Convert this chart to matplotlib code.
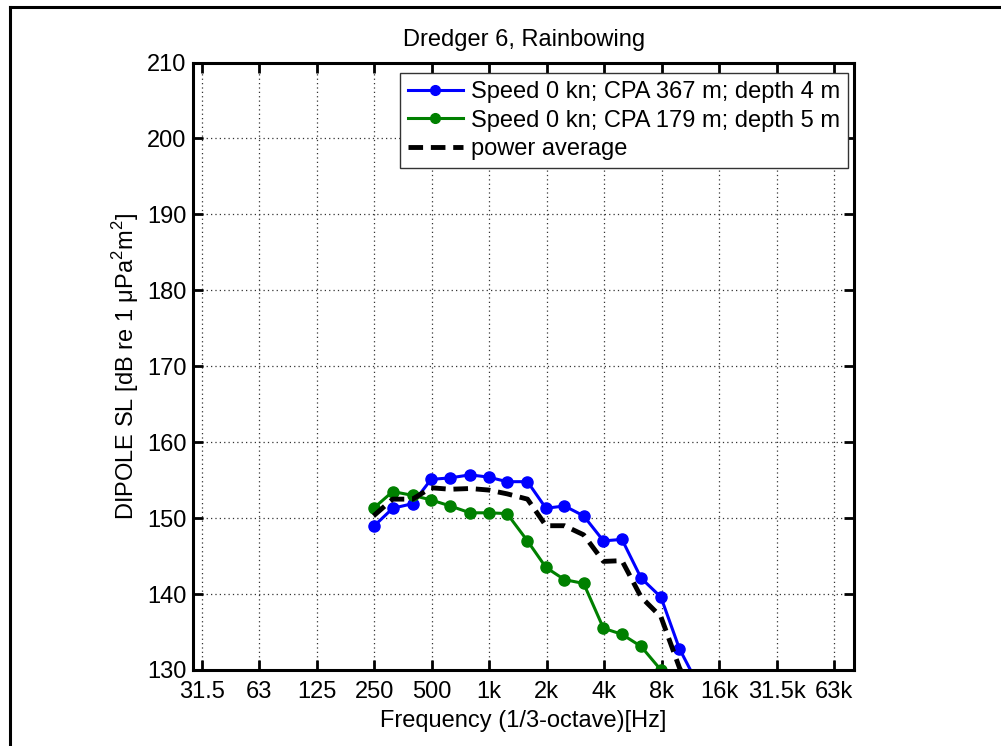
import matplotlib
matplotlib.use('Agg')
from matplotlib import pyplot as plt
from matplotlib.lines import Line2D

plt.rcParams['font.family'] = ['Liberation Sans', 'DejaVu Sans']
plt.rcParams['mathtext.fontset'] = 'custom'
plt.rcParams['mathtext.rm'] = 'Liberation Sans'

# 1/3-octave band centre frequencies [Hz]
freqs = [250, 315, 400, 500, 630, 800, 1000, 1250, 1600, 2000, 2500, 3150,
         4000, 5000, 6300, 8000, 10000, 12500]

sl_cpa367 = [148.9, 151.3, 151.9, 155.1, 155.3, 155.7, 155.4, 154.8, 154.8,
             151.3, 151.6, 150.3, 147.0, 147.2, 142.1, 139.6, 132.8, 128.1]
sl_cpa179 = [151.3, 153.5, 153.0, 152.4, 151.6, 150.7, 150.7, 150.6, 147.0,
             143.5, 141.9, 141.4, 135.5, 134.7, 133.1, 130.0, 126.0, 122.0]
sl_power_avg = [150.3, 152.5, 152.5, 154.0, 153.8, 153.9, 153.7, 153.2, 152.5,
                149.0, 149.0, 147.8, 144.3, 144.4, 139.6, 137.0, 130.3, 125.5]

tick_freqs = [31.5 * 2 ** n for n in range(12)]
tick_labels = ['31.5', '63', '125', '250', '500', '1k', '2k', '4k', '8k',
               '16k', '31.5k', '63k']

W, H = 1001, 746
FS = 17
fig = plt.figure(figsize=(W / 100, H / 100), dpi=100)

# frame lines on left and top of the figure
fig.add_artist(Line2D([10 / W, 10 / W], [0, 1 - 7 / H], color='black', lw=2.2,
                      transform=fig.transFigure))
fig.add_artist(Line2D([10 / W, 1], [1 - 7.3 / H, 1 - 7.3 / H], color='black', lw=2.2,
                      transform=fig.transFigure))

ax = fig.add_axes([193.3 / W, 1 - 670 / H, (854 - 193.3) / W, (670 - 62.5) / H])

ax.plot(freqs, sl_cpa367, '-o', color=(0, 0, 1), lw=2.2, ms=8,
        label='Speed 0 kn; CPA 367 m; depth 4 m')
ax.plot(freqs, sl_cpa179, '-o', color=(0, 0.5, 0), lw=2.2, ms=8,
        label='Speed 0 kn; CPA 179 m; depth 5 m')
ax.plot(freqs, sl_power_avg, '--', color='black', lw=3.5, dashes=(3, 1.6),
        label='power average')

ax.set_xscale('log')
ax.set_xlim(28.43, 82100)
ax.set_ylim(130, 210)
ax.set_xticks(tick_freqs)
ax.set_xticklabels(tick_labels)
ax.minorticks_off()
ax.set_yticks(range(130, 211, 10))

ax.grid(True, which='major', linestyle=(0, (1, 2.5)), color='#333333', lw=0.9)
ax.tick_params(direction='in', length=7, width=2, labelsize=FS,
               top=True, right=True)
ax.tick_params(axis='x', pad=8)
ax.tick_params(axis='y', pad=5)
for sp in ax.spines.values():
    sp.set_linewidth(2.2)

ax.set_title('Dredger 6, Rainbowing', fontsize=FS, pad=12)
ax.set_xlabel('Frequency (1/3-octave)[Hz]', fontsize=FS, labelpad=5)
ax.set_ylabel('DIPOLE SL [dB re 1 \u03bcPa$^2$m$^2$]', fontsize=FS, labelpad=4)

leg = ax.legend(loc='upper right', bbox_to_anchor=(848.3 / W, 1 - 72.7 / H),
                bbox_transform=fig.transFigure, borderaxespad=0, fontsize=FS,
                fancybox=False, handlelength=2.3, handletextpad=0.35,
                labelspacing=0.28, borderpad=0.35, framealpha=1)
leg.get_frame().set_edgecolor('#333333')
leg.get_frame().set_linewidth(1.0)
for h in leg.get_lines():
    h.set_markersize(7)

plt.savefig('out.png', dpi=100)
